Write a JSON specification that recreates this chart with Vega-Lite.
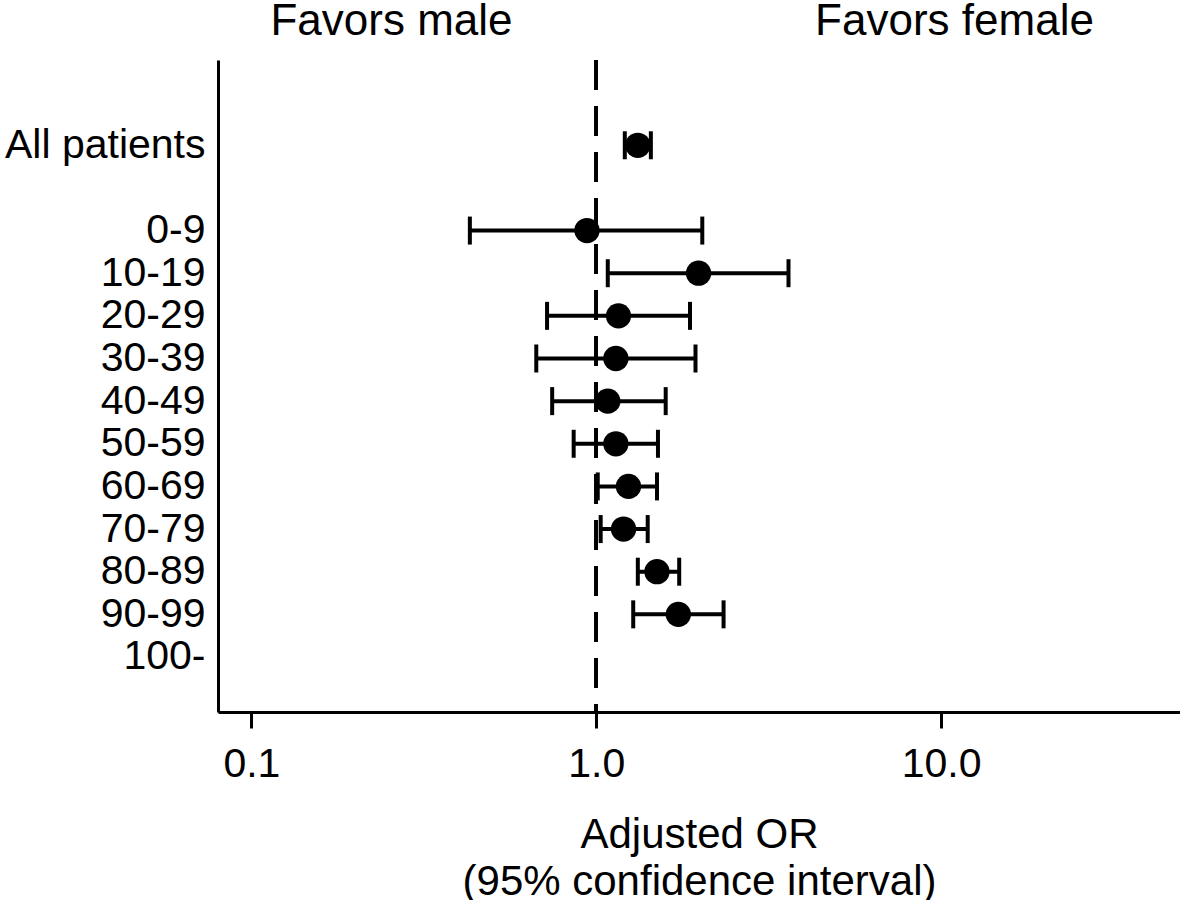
{
  "$schema": "https://vega.github.io/schema/vega-lite/v6.json",
  "width": 962,
  "height": 652,
  "autosize": {"type": "none"},
  "padding": {"left": 218, "top": 60, "right": 0, "bottom": 188},
  "background": "white",
  "config": {
    "view": {"stroke": null},
    "font": "Liberation Sans",
    "axis": {"grid": false, "domainColor": "black", "tickColor": "black", "labelColor": "black", "titleColor": "black", "labelFont": "Liberation Sans", "titleFont": "Liberation Sans", "labelLimit": 600}
  },
  "data": {
    "values": [
      {"group": "All patients", "or": 1.32, "low": 1.21, "high": 1.44},
      {"group": "0-9", "or": 0.94, "low": 0.43, "high": 2.03},
      {"group": "10-19", "or": 1.98, "low": 1.08, "high": 3.61},
      {"group": "20-29", "or": 1.16, "low": 0.72, "high": 1.87},
      {"group": "30-39", "or": 1.14, "low": 0.67, "high": 1.94},
      {"group": "40-49", "or": 1.08, "low": 0.745, "high": 1.59},
      {"group": "50-59", "or": 1.14, "low": 0.86, "high": 1.51},
      {"group": "60-69", "or": 1.24, "low": 1.01, "high": 1.5},
      {"group": "70-79", "or": 1.2, "low": 1.03, "high": 1.41},
      {"group": "80-89", "or": 1.5, "low": 1.32, "high": 1.74},
      {"group": "90-99", "or": 1.73, "low": 1.28, "high": 2.34},
      {"group": "100-", "or": null, "low": null, "high": null}
    ]
  },
  "resolve": {"axis": {"x": "independent"}},
  "layer": [
    {
      "mark": {"type": "rule", "strokeDash": [30, 16], "strokeWidth": 3, "color": "black"},
      "encoding": {
        "x": {
          "datum": 1,
          "type": "quantitative",
          "scale": {"type": "log", "domain": [0.08, 49.3], "nice": false},
          "axis": {
            "orient": "top",
            "values": [0.254, 10.9],
            "labelExpr": "datum.value < 1 ? 'Favors male' : 'Favors female'",
            "domain": false,
            "ticks": false,
            "labelFontSize": 44,
            "labelPadding": 17,
            "labelFlush": false,
            "labelOverlap": false,
            "labelLimit": 600,
            "title": null
          }
        }
      }
    },
    {
      "mark": {"type": "rule", "strokeWidth": 4, "color": "black"},
      "encoding": {
        "x": {"field": "low", "type": "quantitative", "scale": {"type": "log", "domain": [0.08, 49.3], "nice": false}, "axis": null},
        "x2": {"field": "high"},
        "y": {
          "field": "group", "type": "nominal",
          "scale": {"type": "point", "domain": ["  ", "   ", "All patients", " ", "0-9", "10-19", "20-29", "30-39", "40-49", "50-59", "60-69", "70-79", "80-89", "90-99", "100-"], "padding": 0.645, "align": 0},
          "axis": {"title": null, "ticks": false, "labelFontSize": 41, "labelPadding": 13, "domainWidth": 3, "labelLimit": 600}
        }
      }
    },
    {
      "mark": {"type": "tick", "orient": "vertical", "size": 28, "thickness": 4, "color": "black", "opacity": 1},
      "encoding": {
        "x": {"field": "low", "type": "quantitative", "scale": {"type": "log", "domain": [0.08, 49.3], "nice": false}, "axis": null},
        "y": {"field": "group", "type": "nominal"}
      }
    },
    {
      "mark": {"type": "tick", "orient": "vertical", "size": 28, "thickness": 4, "color": "black", "opacity": 1},
      "encoding": {
        "x": {"field": "high", "type": "quantitative", "scale": {"type": "log", "domain": [0.08, 49.3], "nice": false}, "axis": null},
        "y": {"field": "group", "type": "nominal"}
      }
    },
    {
      "mark": {"type": "circle", "size": 640, "color": "black", "opacity": 1},
      "encoding": {
        "x": {
          "field": "or", "type": "quantitative",
          "scale": {"type": "log", "domain": [0.08, 49.3], "nice": false},
          "axis": {
            "values": [0.1, 1, 10],
            "format": ".1f",
            "title": ["Adjusted OR", "(95% confidence interval)"],
            "labelFontSize": 41,
            "titleFontSize": 42,
            "titleFontWeight": "normal",
            "titleLineHeight": 47,
            "tickSize": 16,
            "tickWidth": 3,
            "domainWidth": 3,
            "labelPadding": 16,
            "titlePadding": 30,
            "labelFlush": false
          }
        },
        "y": {"field": "group", "type": "nominal"}
      }
    }
  ]
}
